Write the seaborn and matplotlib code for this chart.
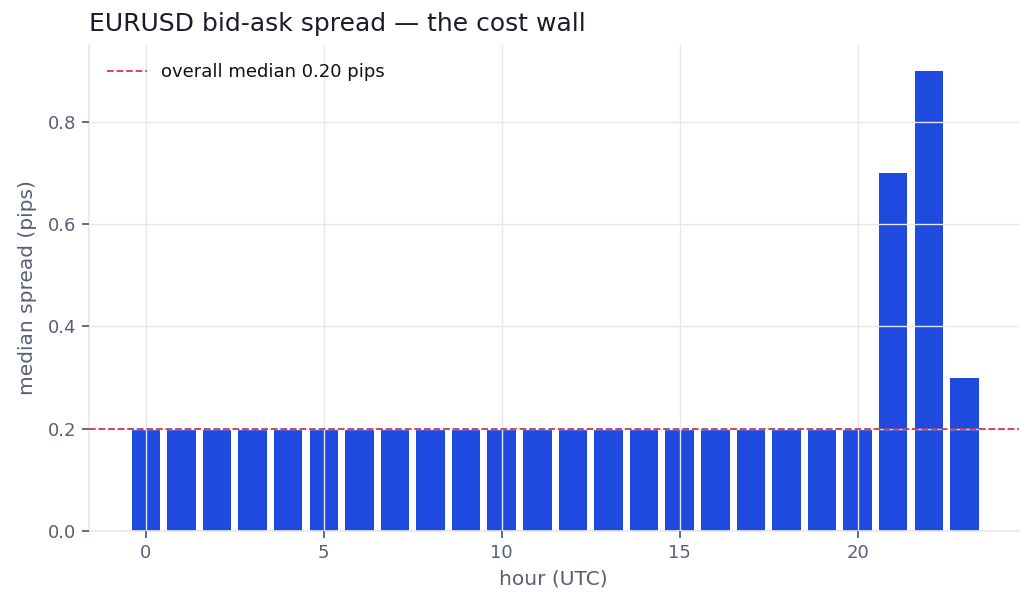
import numpy as np
import pandas as pd
import matplotlib
matplotlib.use("Agg")
import matplotlib.pyplot as plt
import seaborn as sns

# median spread per hour (pips)
hours = list(range(24))
spread = [0.2] * 21 + [0.7, 0.9, 0.3]
overall_median = 0.20

BLUE = '#1f4ae0'
RED = '#d23a44'
GRID = '#e5e7eb'
TEXT = '#575e75'

sns.set_theme(style="white")
plt.rcParams['font.family'] = ['DejaVu Sans']

df = pd.DataFrame({'hour': hours, 'spread': spread})

fig, ax = plt.subplots(figsize=(10.33, 6.09), dpi=100)
fig.subplots_adjust(left=0.086, right=0.986, top=0.926, bottom=0.128)

sns.barplot(data=df, x='hour', y='spread', native_scale=True, color=BLUE,
            saturation=1, width=0.8, ax=ax, errorbar=None, linewidth=0)
ax.axhline(overall_median, color=RED, ls='--', lw=1.3,
           label=f'overall median {overall_median:.2f} pips', zorder=4)

ax.set_xlim(-1.6, 24.52)
ax.set_ylim(0, 0.95)
ax.set_xticks([0, 5, 10, 15, 20])
ax.set_yticks([0, 0.2, 0.4, 0.6, 0.8])
ax.set_yticklabels(['0.0', '0.2', '0.4', '0.6', '0.8'])
ax.set_axisbelow(False)
ax.grid(True, color=GRID, lw=1, zorder=3)

for side in ['top', 'right']:
    ax.spines[side].set_visible(False)
for side in ['left', 'bottom']:
    ax.spines[side].set_color(GRID)
    ax.spines[side].set_linewidth(1.2)

ax.tick_params(axis='both', colors=TEXT, labelsize=13, length=5, width=1.3,
               direction='out', left=True, bottom=True, pad=4)
ax.set_xlabel('hour (UTC)', color=TEXT, fontsize=14.5, labelpad=6)
ax.set_ylabel('median spread (pips)', color=TEXT, fontsize=14.5, labelpad=8)
ax.set_title('EURUSD bid-ask spread — the cost wall', loc='left',
             fontsize=18, color='#1a1d29', pad=10)

leg = ax.legend(loc='upper left', frameon=False, fontsize=13, handlelength=2.2,
                handletextpad=0.8, borderaxespad=0.6)
for t in leg.get_texts():
    t.set_color('#111111')

fig.savefig('out.png', dpi=100)
